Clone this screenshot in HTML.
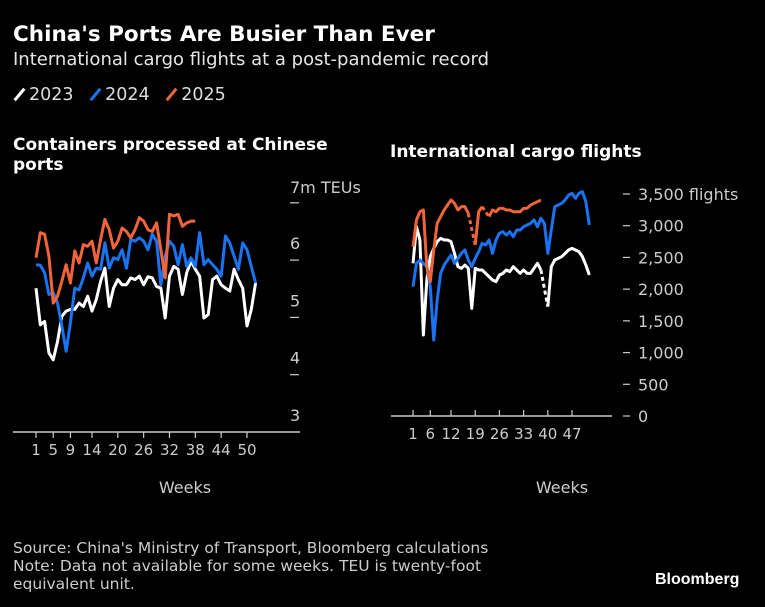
<!DOCTYPE html>
<html><head><meta charset="utf-8">
<style>
html,body{margin:0;padding:0;background:#000;}
body{width:765px;height:607px;overflow:hidden;position:relative;font-family:"DejaVu Sans","Liberation Sans",sans-serif;color:#fff;}
.t{position:absolute;white-space:nowrap;}
</style></head>
<body>
<div class="t" style="left:13px;top:22px;font-size:21.5px;font-weight:bold;">China's Ports Are Busier Than Ever</div>
<div class="t" style="left:13px;top:49px;font-size:18px;color:#e6e6e6;">International cargo flights at a post-pandemic record</div>
<div class="t" style="left:13px;top:85px;font-size:17.5px;color:#ddd;">
<span><span style="display:inline-block;width:3px;height:15px;background:#fff;transform:rotate(40deg);vertical-align:-2px;margin:0 8px 0 5px"></span>2023</span>
<span style="margin-left:10px"><span style="display:inline-block;width:3px;height:15px;background:#1a73f0;transform:rotate(40deg);vertical-align:-2px;margin:0 8px 0 5px"></span>2024</span>
<span style="margin-left:10px"><span style="display:inline-block;width:3px;height:15px;background:#f0643a;transform:rotate(40deg);vertical-align:-2px;margin:0 8px 0 5px"></span>2025</span>
</div>
<div class="t" style="left:13px;top:135px;font-size:17px;font-weight:bold;line-height:20px;">Containers processed at Chinese<br>ports</div>
<div class="t" style="left:390px;top:142px;font-size:17px;font-weight:bold;">International cargo flights</div>
<svg id="svg" width="765" height="607" style="position:absolute;left:0;top:0"></svg>
<div class="t" style="left:13px;top:539px;font-size:15.5px;line-height:18px;color:#ccc;">Source: China's Ministry of Transport, Bloomberg calculations<br>Note: Data not available for some weeks. TEU is twenty-foot<br>equivalent unit.</div>
<div class="t" style="left:655px;top:571px;font-size:16px;font-weight:bold;font-family:'Liberation Sans',sans-serif;">Bloomberg</div>
<script>
const leftTicks=[3,4,5,6,7];
const leftWeekTicks=[1,5,9,14,20,26,32,38,44,50];
const teu2023=[5.51,4.87,4.93,4.38,4.26,4.58,5.02,5.11,5.14,5.14,5.25,5.19,5.37,5.11,5.31,5.63,5.86,5.19,5.51,5.66,5.57,5.57,5.69,5.66,5.72,5.57,5.71,5.69,5.54,5.51,4.99,5.72,5.89,5.84,5.40,5.78,5.98,5.84,5.72,4.99,5.05,5.66,5.72,5.57,5.51,5.46,5.84,5.66,5.51,4.85,5.14,5.60];
const teu2024=[5.92,5.91,5.78,5.40,5.43,5.25,4.85,4.41,4.91,5.51,5.48,5.69,5.95,5.72,5.86,5.84,6.30,5.86,6.04,6.01,6.18,5.86,6.36,6.33,6.39,6.33,6.18,6.45,6.33,5.57,6.07,6.33,6.24,5.92,6.27,5.89,6.04,5.89,6.48,5.92,6.01,5.92,5.84,5.72,6.42,6.30,6.07,5.84,6.30,6.18,5.89,5.60];
const teu2025=[6.04,6.48,6.45,6.07,5.25,5.37,5.63,5.92,5.60,6.16,5.95,6.27,6.24,6.33,5.95,6.36,6.71,6.53,6.21,6.33,6.56,6.50,6.39,6.53,6.74,6.68,6.53,6.50,6.65,6.18,5.69,6.80,6.77,6.80,6.59,6.65,6.68,6.68];
const rightTicks=[0,500,1000,1500,2000,2500,3000,3500];
const rightTickLabels=["0","500","1,000","1,500","2,000","2,500","3,000","3,500"];
const rightWeekTicks=[1,6,12,19,26,33,40,47];
const fl2023=[2407,2985,2775,1277,2144,2512,2643,2748,2801,2775,2775,2748,2564,2354,2328,2380,2328,1697,2328,2302,2302,2249,2197,2144,2118,2223,2249,2302,2275,2354,2302,2249,2302,2249,2249,2328,2407,2302,null,1724,2354,2459,2485,2512,2564,2617,2643,2617,2591,2512,2380,2223];
const fl2024=[2039,2407,2459,2407,2354,2039,1198,1829,2249,2380,2459,2538,2407,2485,2564,2617,2459,2354,2485,2591,2722,2696,2775,2564,2775,2880,2906,2853,2906,2827,2932,2932,2985,3011,3037,3090,2985,3116,3037,2564,2932,3300,3326,3353,3405,3484,3510,3432,3510,3537,3379,3011];
const fl2025=[2669,3090,3221,3248,2354,2118,2617,3037,3142,3248,3326,3405,3353,3248,3300,3300,3195,null,2696,3221,3300,null,3142,3248,3221,3274,3274,3248,3248,3221,3221,3221,3274,3274,3326,3353,3379,3405];

const NS="http://www.w3.org/2000/svg";
const FF='DejaVu Sans, Liberation Sans, sans-serif';
const svg=document.getElementById('svg');
function mk(tag,attrs){const e=document.createElementNS(NS,tag);for(const k in attrs)e.setAttribute(k,attrs[k]);svg.appendChild(e);return e;}
const lx=w=>36+(w-1)*4.306;
const ly=v=>432-(v-3)*57.3;
const ry=v=>416-v*0.06343;
const rx=w=>413+(w-1)*3.457;

let e=mk('line',{x1:13,x2:300,y1:432,y2:432,stroke:'#ccc','stroke-width':1.5});

leftWeekTicks.forEach(w=>{
 let t=mk('line',{x1:lx(w),x2:lx(w),y1:432,y2:438,stroke:'#ccc','stroke-width':1.2});
 
 let l=mk('text',{x:lx(w),y:455,fill:'#ccc','font-size':15,'text-anchor':'middle','font-family':FF});
 l.textContent=w;
 
});
leftTicks.forEach(v=>{
 if(v>3){let t=mk('line',{x1:290,x2:299,y1:ly(v),y2:ly(v),stroke:'#ccc','stroke-width':1.2});
 }
 let l=mk('text',{x:290,y:ly(v)-11,fill:'#ccc','font-size':16,'font-family':FF});
 l.textContent=v===7?'7m TEUs':v;
 if(v===7){l.setAttribute('y',ly(v)-10);}
 
});
e=mk('line',{x1:391,x2:612,y1:416,y2:416,stroke:'#ccc','stroke-width':1.5});

rightWeekTicks.forEach(w=>{
 let t=mk('line',{x1:rx(w),x2:rx(w),y1:410,y2:416,stroke:'#ccc','stroke-width':1.2});
 
 let l=mk('text',{x:rx(w),y:439,fill:'#ccc','font-size':15,'text-anchor':'middle','font-family':FF});
 l.textContent=w;
 
});
rightTicks.forEach((v,i)=>{
 let t=mk('line',{x1:623,x2:630,y1:ry(v),y2:ry(v),stroke:'#ccc','stroke-width':1.2});
 
 let l=mk('text',{x:638,y:ry(v)+6,fill:'#ccc','font-size':16,'font-family':FF});
 l.textContent=rightTickLabels[i]+(v===3500?'  flights':'');
 l.setAttribute('xml:space','preserve');
 
});
function series(arr,xf,yf,color,name){
 let segs=[],cur=[],dashes=[],lastIdx=-1;
 arr.forEach((v,i)=>{
  if(v==null){if(cur.length)segs.push(cur);cur=[];return;}
  if(lastIdx>=0&&lastIdx<i-1)dashes.push([[xf(lastIdx+1),yf(arr[lastIdx])],[xf(i+1),yf(v)]]);
  cur.push([xf(i+1),yf(v)]);lastIdx=i;
 });
 if(cur.length)segs.push(cur);
 segs.forEach(s=>{
  let p=mk('polyline',{points:s.map(q=>q.join(',')).join(' '),fill:'none',stroke:color,'stroke-width':3,'stroke-linejoin':'round'});
  
 });
 dashes.forEach(d=>{
  let p=mk('line',{x1:d[0][0],y1:d[0][1],x2:d[1][0],y2:d[1][1],stroke:color,'stroke-width':3,'stroke-dasharray':'4,3'});
  
 });
}
series(teu2023,lx,ly,'#ffffff','teu-line-2023');
series(teu2024,lx,ly,'#1a73f0','teu-line-2024');
series(teu2025,lx,ly,'#f0643a','teu-line-2025');
series(fl2023,rx,ry,'#ffffff','flights-line-2023');
series(fl2024,rx,ry,'#1a73f0','flights-line-2024');
series(fl2025,rx,ry,'#f0643a','flights-line-2025');
function lbl(x,y,txt,name){let l=mk('text',{x:x,y:y,fill:'#ccc','font-size':16,'text-anchor':'middle','font-family':FF});l.textContent=txt;
 }
lbl(185,493,'Weeks','left-x-axis-title');
lbl(562,493,'Weeks','right-x-axis-title');
</script>
</body></html>
